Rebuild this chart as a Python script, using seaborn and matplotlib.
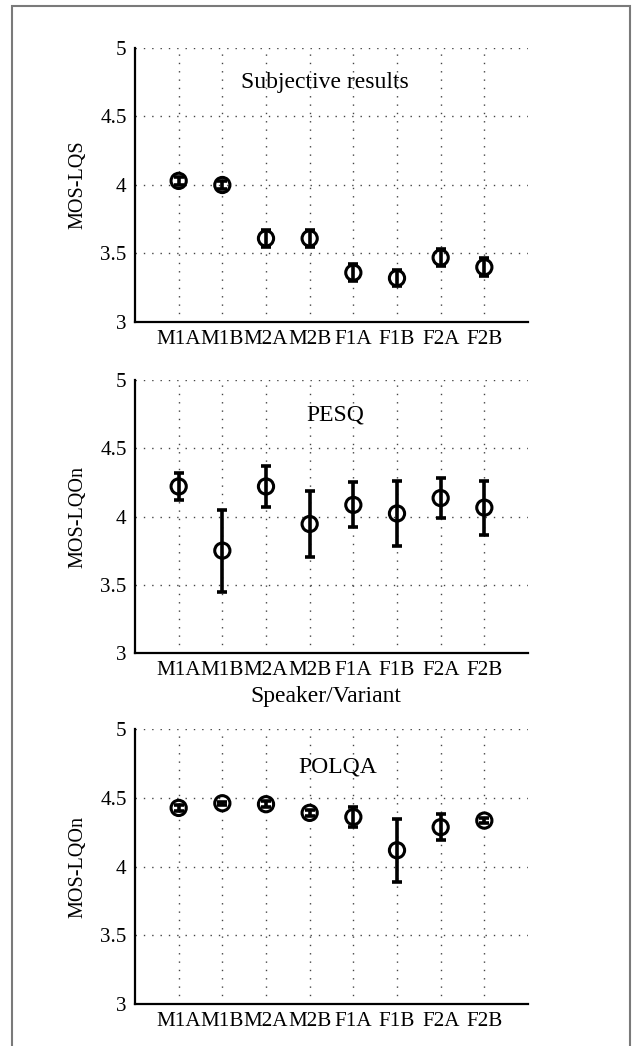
import numpy as np
import pandas as pd
import matplotlib
matplotlib.use("Agg")
import matplotlib.pyplot as plt
import seaborn as sns
from matplotlib.patches import Rectangle

# Data
categories = ["M1A", "M1B", "M2A", "M2B", "F1A", "F1B", "F2A", "F2B"]

subj_mean = [4.03, 4.00, 3.61, 3.61, 3.36, 3.32, 3.47, 3.40]
subj_err = [0.03, 0.03, 0.06, 0.06, 0.06, 0.06, 0.06, 0.065]

pesq_mean = [4.22, 3.75, 4.22, 3.945, 4.085, 4.022, 4.135, 4.065]
pesq_err = [0.10, 0.30, 0.147, 0.243, 0.165, 0.238, 0.148, 0.198]

polqa_mean = [4.426, 4.46, 4.453, 4.39, 4.36, 4.118, 4.286, 4.334]
polqa_err = [0.02, 0.012, 0.02, 0.02, 0.073, 0.23, 0.093, 0.02]

panel_titles = ["Subjective results", "PESQ", "POLQA"]
panel_ylabels = ["MOS-LQS", "MOS-LQOn", "MOS-LQOn"]
title_pos = [(3.35, 4.75), (3.58, 4.74), (3.65, 4.72)]
y_ticks = [3, 3.5, 4, 4.5, 5]
y_ticklabels = ["3", "3.5", "4", "4.5", "5"]

sns.set_style("white")
plt.rcParams["font.family"] = ["Liberation Serif", "DejaVu Serif"]
plt.rcParams["text.color"] = "black"
plt.rcParams["axes.labelcolor"] = "black"
plt.rcParams["xtick.color"] = "black"
plt.rcParams["ytick.color"] = "black"

W, H = 635, 1046
fig = plt.figure(figsize=(W / 100, H / 100), dpi=100)

# axes boxes in pixels: (top, bottom)
boxes = [(48, 322), (380, 653), (729, 1004)]
left_px, right_px = 135, 528

panels = [(subj_mean, subj_err), (pesq_mean, pesq_err), (polqa_mean, polqa_err)]

for i, ((top, bot), (mean, err)) in enumerate(zip(boxes, panels)):
    ax = fig.add_axes([left_px / W, 1 - bot / H, (right_px - left_px) / W, (bot - top) / H])
    df = pd.DataFrame({"cat": categories, "mos": mean, "err": err})

    ax.errorbar(np.arange(len(categories)), df["mos"], yerr=df["err"], fmt="none",
                ecolor="black", elinewidth=2.6, capsize=3.5, capthick=2.6, zorder=3)
    sns.scatterplot(data=df, x="cat", y="mos", ax=ax, marker="o", s=120,
                    facecolor="none", edgecolor="black", linewidth=2.2, zorder=4)

    ax.set_xlim(-1, 8)
    ax.set_ylim(3, 5)
    ax.set_yticks(y_ticks)
    ax.set_yticklabels(y_ticklabels)
    ax.set_xticks(range(len(categories)))
    ax.set_xticklabels(categories)
    ax.tick_params(axis="both", labelsize=15.2, length=0, pad=6)

    ax.grid(True, linestyle=(0, (1, 5)), color="#444444", linewidth=1.0)
    ax.set_axisbelow(True)
    for side in ["top", "right"]:
        ax.spines[side].set_visible(False)
    for side in ["left", "bottom"]:
        ax.spines[side].set_color("black")
        ax.spines[side].set_linewidth(1.6)

    ax.set_xlabel("")
    ax.set_ylabel(panel_ylabels[i], fontsize=14.5)
    ax.yaxis.set_label_coords(-0.12, 0.5)

    tx, ty = title_pos[i]
    ax.text(tx, ty, panel_titles[i], fontsize=17, ha="center", va="center")

    if i == 1:
        ax.text(0.485, -0.16, "Speaker/Variant", transform=ax.transAxes,
                fontsize=17, ha="center", va="center")

# grey frame round the whole figure
fig.add_artist(Rectangle((12 / W, -0.01), (630 - 12) / W, 1 - 6 / H + 0.01,
                         transform=fig.transFigure, fill=False,
                         edgecolor="#7a7a7a", linewidth=1.5))

fig.savefig("out.png", dpi=100)
